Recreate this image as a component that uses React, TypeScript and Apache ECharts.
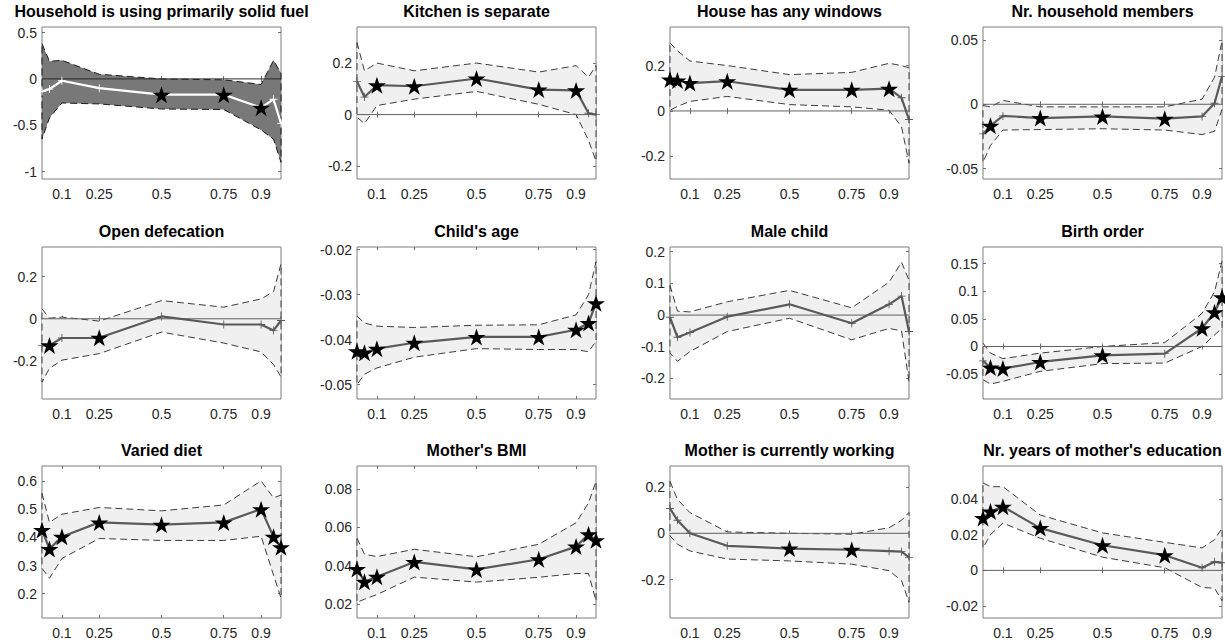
import React, { useEffect, useRef } from 'react';
import * as echarts from 'echarts';

// ---------------- data ----------------
const quantiles = [0.02, 0.05, 0.1, 0.25, 0.5, 0.75, 0.9, 0.95, 0.98];
const xTickValues = [0.1, 0.25, 0.5, 0.75, 0.9];

const titles = [
  'Household is using primarily solid fuel',
  'Kitchen is separate',
  'House has any windows',
  'Nr. household members',
  'Open defecation',
  "Child's age",
  'Male child',
  'Birth order',
  'Varied diet',
  "Mother's BMI",
  'Mother is currently working',
  "Nr. years of mother's education",
];

// 1 = significant (star), 0 = not significant (plus)
const fuelCoef = [-0.136, -0.11, -0.02, -0.1, -0.17, -0.17, -0.31, -0.22, -0.48];
const fuelUpper = [0.38, 0.19, 0.2, 0.05, 0.0, -0.01, -0.06, 0.2, 0.06];
const fuelLower = [-0.65, -0.42, -0.26, -0.27, -0.325, -0.33, -0.55, -0.65, -0.9];
const fuelSig = [0, 0, 0, 0, 1, 1, 1, 0, 0];

const kitchenCoef = [0.129, 0.068, 0.114, 0.11, 0.14, 0.097, 0.094, 0.005, 0.0];
const kitchenUpper = [0.28, 0.17, 0.2, 0.17, 0.2, 0.165, 0.19, 0.145, 0.19];
const kitchenLower = [-0.01, -0.035, 0.035, 0.06, 0.09, 0.04, 0.0, -0.1, -0.18];
const kitchenSig = [0, 0, 1, 1, 1, 1, 1, 0, 0];

const windowsCoef = [0.139, 0.134, 0.123, 0.131, 0.093, 0.093, 0.098, 0.058, -0.038];
const windowsUpper = [0.3, 0.265, 0.22, 0.2, 0.16, 0.17, 0.21, 0.2, 0.19];
const windowsLower = [0.003, 0.02, 0.042, 0.064, 0.028, 0.018, 0.003, -0.07, -0.23];
const windowsSig = [1, 1, 1, 1, 1, 1, 1, 0, 0];

const membersCoef = [-0.023, -0.0166, -0.009, -0.0107, -0.0094, -0.0112, -0.0094, 0.0008, 0.0217];
const membersUpper = [-0.001, -0.002, 0.003, -0.002, -0.002, -0.002, 0.004, 0.021, 0.049];
const membersLower = [-0.045, -0.032, -0.02, -0.0196, -0.019, -0.02, -0.0235, -0.021, -0.004];
const membersSig = [0, 1, 0, 1, 1, 1, 0, 0, 0];

const defecationCoef = [-0.126, -0.126, -0.091, -0.09, 0.011, -0.027, -0.027, -0.055, -0.008];
const defecationUpper = [0.047, 0.003, 0.008, -0.011, 0.086, 0.055, 0.094, 0.129, 0.26];
const defecationLower = [-0.3, -0.235, -0.196, -0.165, -0.063, -0.115, -0.157, -0.217, -0.275];
const defecationSig = [0, 1, 0, 1, 0, 0, 0, 0, 0];

const ageCoef = [-0.0426, -0.0429, -0.042, -0.0407, -0.0394, -0.0394, -0.0378, -0.0363, -0.0319];
const ageUpper = [-0.0348, -0.0363, -0.037, -0.0373, -0.0368, -0.0367, -0.0345, -0.03, -0.0227];
const ageLower = [-0.05, -0.0477, -0.0463, -0.0439, -0.042, -0.0422, -0.0422, -0.0427, -0.0404];
const ageSig = [1, 1, 1, 1, 1, 1, 1, 1, 1];

const maleCoef = [-0.007, -0.07, -0.055, -0.005, 0.034, -0.026, 0.034, 0.06, -0.052];
const maleUpper = [0.094, 0.0125, 0.01, 0.042, 0.078, 0.023, 0.104, 0.167, 0.11];
const maleLower = [-0.12, -0.146, -0.115, -0.052, -0.01, -0.078, -0.042, -0.05, -0.21];
const maleSig = [0, 0, 0, 0, 0, 0, 0, 0, 0];

const birthCoef = [-0.026, -0.038, -0.04, -0.028, -0.016, -0.013, 0.033, 0.062, 0.089];
const birthUpper = [0.006, -0.012, -0.022, -0.012, 0.0, 0.007, 0.06, 0.099, 0.154];
const birthLower = [-0.06, -0.068, -0.063, -0.045, -0.031, -0.03, 0.0, 0.021, 0.033];
const birthSig = [0, 1, 1, 1, 1, 0, 1, 1, 1];

const dietCoef = [0.426, 0.359, 0.402, 0.453, 0.445, 0.453, 0.5, 0.402, 0.365];
const dietUpper = [0.556, 0.453, 0.482, 0.506, 0.494, 0.515, 0.6, 0.54, 0.55];
const dietLower = [0.29, 0.255, 0.325, 0.396, 0.389, 0.389, 0.404, 0.266, 0.185];
const dietSig = [1, 1, 1, 1, 1, 1, 1, 1, 1];

const bmiCoef = [0.0383, 0.0317, 0.0343, 0.042, 0.0381, 0.0434, 0.05, 0.0564, 0.0533];
const bmiUpper = [0.0545, 0.046, 0.0448, 0.0486, 0.0447, 0.0512, 0.0624, 0.0728, 0.084];
const bmiLower = [0.021, 0.0226, 0.025, 0.0341, 0.0315, 0.034, 0.036, 0.036, 0.0217];
const bmiSig = [1, 1, 1, 1, 1, 1, 1, 1, 1];

const workingCoef = [0.107, 0.056, 0.0, -0.054, -0.066, -0.071, -0.077, -0.079, -0.104];
const workingUpper = [0.224, 0.146, 0.089, 0.006, 0.0, -0.004, 0.024, 0.056, 0.09];
const workingLower = [-0.011, -0.047, -0.076, -0.111, -0.119, -0.133, -0.161, -0.204, -0.297];
const workingSig = [0, 0, 0, 0, 1, 1, 0, 0, 0];

const educCoef = [0.0293, 0.033, 0.0357, 0.0237, 0.0141, 0.0085, 0.0015, 0.0048, 0.0043];
const educUpper = [0.049, 0.0469, 0.0469, 0.031, 0.021, 0.0157, 0.0126, 0.0172, 0.0237];
const educLower = [0.0126, 0.02, 0.0265, 0.018, 0.0074, 0.0015, -0.0096, -0.01, -0.017];
const educSig = [1, 1, 1, 1, 1, 1, 0, 0, 0];

const yTickLabels = [
  [-1, -0.5, 0, 0.5],
  [-0.2, 0, 0.2],
  [-0.2, 0, 0.2],
  [-0.05, 0, 0.05],
  [-0.2, 0, 0.2],
  [-0.05, -0.04, -0.03, -0.02],
  [-0.2, -0.1, 0, 0.1, 0.2],
  [-0.05, 0, 0.05, 0.1, 0.15],
  [0.2, 0.3, 0.4, 0.5, 0.6],
  [0.02, 0.04, 0.06, 0.08],
  [-0.2, 0, 0.2],
  [-0.02, 0, 0.02, 0.04],
];

const yMins = [-1.08, -0.25, -0.3, -0.058, -0.38, -0.0532, -0.265, -0.095, 0.114, 0.0128, -0.365, -0.0267];
const yMaxs = [0.56, 0.34, 0.37, 0.06, 0.34, -0.0194, 0.215, 0.18, 0.653, 0.092, 0.29, 0.0585];

const coefs = [fuelCoef, kitchenCoef, windowsCoef, membersCoef, defecationCoef, ageCoef, maleCoef, birthCoef, dietCoef, bmiCoef, workingCoef, educCoef];
const uppers = [fuelUpper, kitchenUpper, windowsUpper, membersUpper, defecationUpper, ageUpper, maleUpper, birthUpper, dietUpper, bmiUpper, workingUpper, educUpper];
const lowers = [fuelLower, kitchenLower, windowsLower, membersLower, defecationLower, ageLower, maleLower, birthLower, dietLower, bmiLower, workingLower, educLower];
const sigs = [fuelSig, kitchenSig, windowsSig, membersSig, defecationSig, ageSig, maleSig, birthSig, dietSig, bmiSig, workingSig, educSig];

// ---------------- layout / style ----------------
const colLeft = [42, 357, 670, 983];
const rowTop = [27, 247, 466];
const plotW = 239;
const plotH = 152;

const STAR =
  'path://M0,-1L0.2245,-0.309L0.951,-0.309L0.363,0.118L0.588,0.809L0,0.382L-0.588,0.809L-0.363,0.118L-0.951,-0.309L-0.2245,-0.309Z';
const PLUS = 'path://M-0.11,-1H0.11V-0.11H1V0.11H0.11V1H-0.11V0.11H-1V-0.11H-0.11Z';

const FONT = 'Liberation Sans';
const fmt = (v: number) => String(v);

function buildOption() {
  const grid: any[] = [];
  const xAxis: any[] = [];
  const yAxis: any[] = [];
  const series: any[] = [];
  const title: any[] = [];

  for (let i = 0; i < 12; i++) {
    const r = Math.floor(i / 4);
    const c = i % 4;
    const dark = i === 0;
    const lineColor = dark ? '#ffffff' : '#5a5a5a';
    grid.push({
      left: colLeft[c],
      top: rowTop[r],
      width: plotW,
      height: plotH,
      show: true,
      borderColor: '#7c7c7c',
      borderWidth: 1,
      backgroundColor: '#ffffff',
      containLabel: false,
    });
    title.push({
      text: titles[i],
      left: colLeft[c] + plotW / 2,
      top: rowTop[r] - 24,
      textAlign: 'center',
      padding: 0,
      textStyle: { fontSize: 16, fontWeight: 'bold', color: '#000', fontFamily: FONT },
    });
    const tickStyle = { color: '#707070', width: 1 };
    xAxis.push({
      type: 'value',
      gridIndex: i,
      min: 0.02,
      max: 0.98,
      axisLine: { show: false },
      splitLine: { show: false },
      axisTick: { show: true, inside: true, length: 3, customValues: xTickValues, lineStyle: tickStyle },
      axisLabel: { show: true, customValues: xTickValues, margin: 8, fontSize: 14, color: '#262626', fontFamily: FONT, formatter: fmt },
    });
    xAxis.push({
      type: 'value',
      gridIndex: i,
      position: 'top',
      min: 0.02,
      max: 0.98,
      axisLine: { show: false },
      splitLine: { show: false },
      axisTick: { show: true, inside: true, length: 3, customValues: xTickValues, lineStyle: tickStyle },
      axisLabel: { show: false },
    });
    yAxis.push({
      type: 'value',
      gridIndex: i,
      min: yMins[i],
      max: yMaxs[i],
      axisLine: { show: false },
      splitLine: { show: false },
      axisTick: { show: true, inside: true, length: 3, customValues: yTickLabels[i], lineStyle: tickStyle },
      axisLabel: { show: true, customValues: yTickLabels[i], margin: 5, fontSize: 14, color: '#262626', fontFamily: FONT, formatter: fmt },
    });
    yAxis.push({
      type: 'value',
      gridIndex: i,
      position: 'right',
      min: yMins[i],
      max: yMaxs[i],
      axisLine: { show: false },
      splitLine: { show: false },
      axisTick: { show: true, inside: true, length: 3, customValues: yTickLabels[i], lineStyle: tickStyle },
      axisLabel: { show: false },
    });

    const up = uppers[i];
    const lo = lowers[i];
    series.push({
      type: 'custom',
      xAxisIndex: 2 * i,
      yAxisIndex: 2 * i,
      data: [[0.5, 0]],
      silent: true,
      z: 1,
      renderItem: (_params: any, api: any) => {
        const pts: number[][] = [];
        for (let k = 0; k < quantiles.length; k++) pts.push(api.coord([quantiles[k], up[k]]));
        for (let k = quantiles.length - 1; k >= 0; k--) pts.push(api.coord([quantiles[k], lo[k]]));
        return {
          type: 'polygon',
          shape: { points: pts },
          style: {
            fill: dark ? '#787878' : '#f0f0f0',
            stroke: dark ? '#1a1a1a' : '#3c3c3c',
            lineWidth: 1,
            lineDash: [7, 4],
          },
        };
      },
    });
    if (yMins[i] < 0 && yMaxs[i] > 0) {
      series.push({
        type: 'line',
        xAxisIndex: 2 * i,
        yAxisIndex: 2 * i,
        data: [[0.02, 0], [0.98, 0]],
        symbol: 'none',
        silent: true,
        z: 2,
        lineStyle: { color: dark ? '#2a2a2a' : '#606060', width: 1 },
      });
    }
    const coef = coefs[i];
    const sig = sigs[i];
    series.push({
      type: 'line',
      xAxisIndex: 2 * i,
      yAxisIndex: 2 * i,
      z: 3,
      clip: false,
      silent: true,
      lineStyle: { color: lineColor, width: 2.2 },
      data: quantiles.map((q, k) =>
        sig[k]
          ? { value: [q, coef[k]], symbol: STAR, symbolSize: [18, 17], itemStyle: { color: '#000000' } }
          : { value: [q, coef[k]], symbol: PLUS, symbolSize: 8, itemStyle: { color: lineColor } }
      ),
    });
  }

  return {
    animation: false,
    backgroundColor: '#ffffff',
    title,
    grid,
    xAxis,
    yAxis,
    series,
  };
}

export default function App() {
  const ref = useRef<HTMLDivElement>(null);
  useEffect(() => {
    if (!ref.current) return;
    const chart = echarts.init(ref.current, undefined, { renderer: 'svg' });
    chart.setOption(buildOption() as any);
    return () => chart.dispose();
  }, []);
  return (
    <div
      ref={ref}
      style={{ position: 'fixed', left: 0, top: 0, width: 1225, height: 643, background: '#fff' }}
    />
  );
}
